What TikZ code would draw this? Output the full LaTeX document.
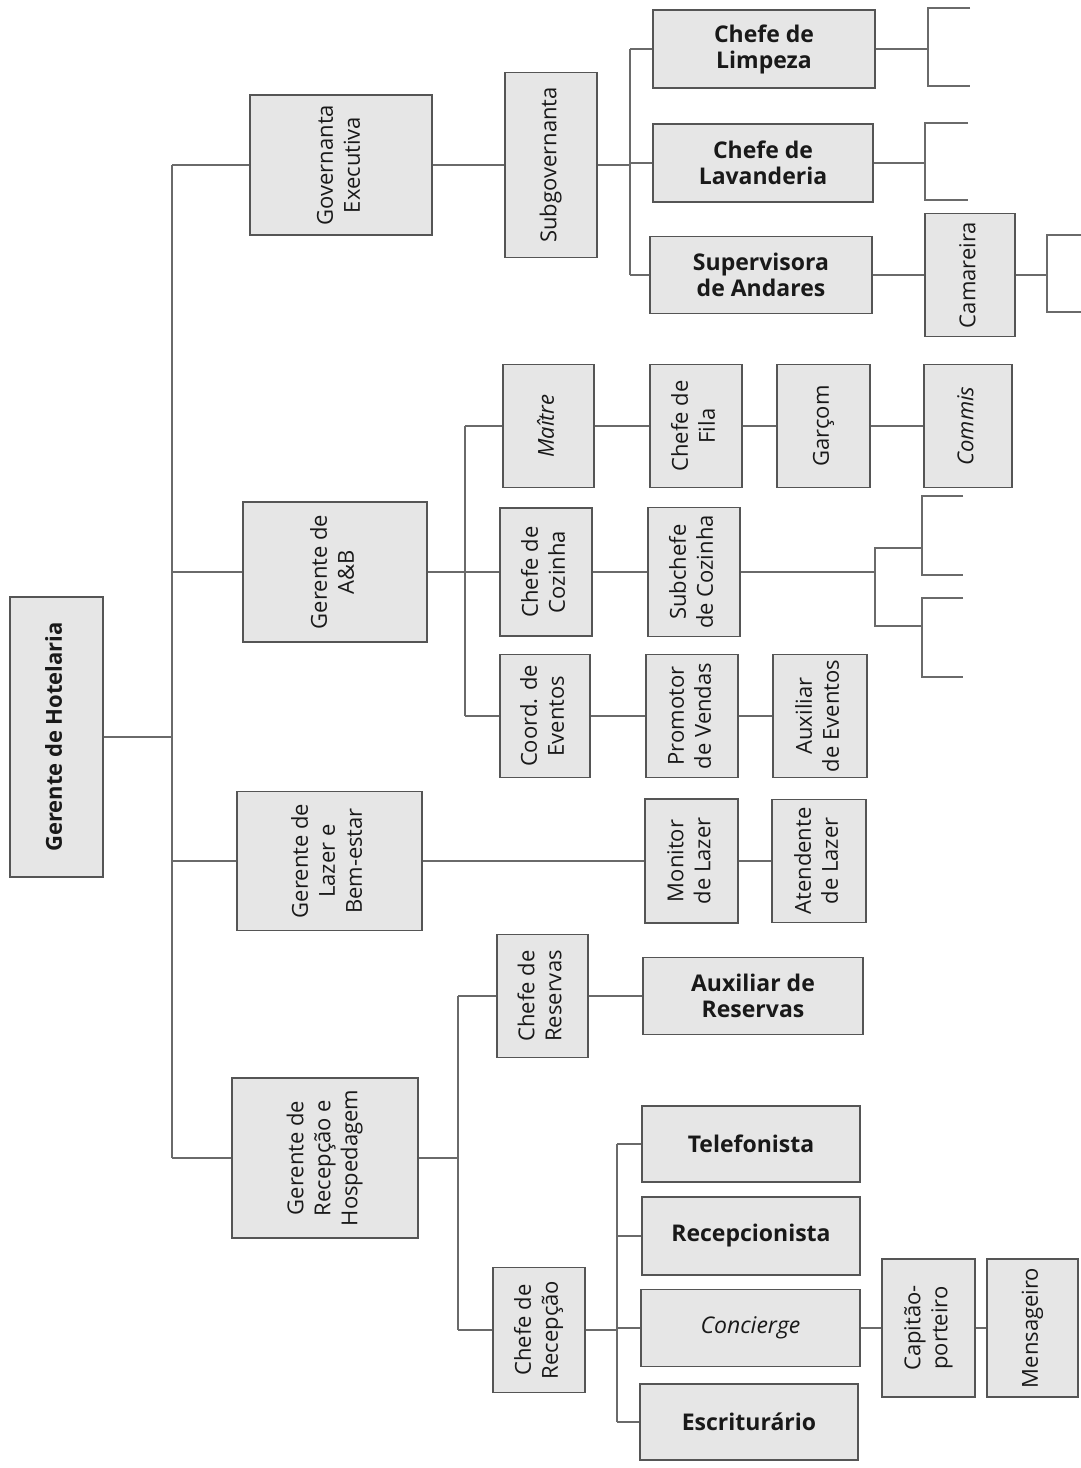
\documentclass[tikz,border=0pt]{standalone}
\usepackage{fontspec}
\usepackage{graphicx}
\setmainfont{Open Sans}
\newcommand{\vt}[1]{\rotatebox{90}{\begin{tabular}{@{}c@{}}#1\end{tabular}}}
\definecolor{boxfill}{HTML}{E6E6E6}
\definecolor{boxline}{HTML}{555555}
\definecolor{conn}{HTML}{6A6A6A}
\begin{document}
\begin{tikzpicture}[x=1pt,y=-1pt,
  orgbox/.style={draw=boxline, fill=boxfill, line width=1.3pt, inner sep=0pt, align=center,
    font=\fontsize{22}{27}\selectfont, text=black!90},
  hbox/.style={orgbox, font=\fontsize{23}{26}\selectfont\bfseries},
  link/.style={draw=conn, line width=1.2pt}]
\useasboundingbox (0,0) rectangle (1081,1468);
\fill[white] (0,0) rectangle (1081,1468);

% level 0
\node[orgbox, minimum width=93pt, minimum height=280pt] (hot) at (56.5,737) {\vt{\bfseries Gerente de Hotelaria}};
% level 1
\node[orgbox, minimum width=182pt, minimum height=140pt] (gov) at (341,165) {\vt{Governanta\\Executiva}};
\node[orgbox, minimum width=184pt, minimum height=140pt] (ab) at (335,572) {\vt{Gerente de\\A\&B}};
\node[orgbox, minimum width=185pt, minimum height=139pt] (laz) at (329.5,861) {\vt{Gerente de\\Lazer e\\Bem-estar}};
\node[orgbox, minimum width=186pt, minimum height=160pt] (rec) at (325,1158) {\vt{Gerente de\\Recepção e\\Hospedagem}};
% level 2
\node[orgbox, minimum width=92pt, minimum height=185pt] (subg) at (551,165) {\vt{Subgovernanta}};
\node[orgbox, minimum width=91pt, minimum height=123pt] (mai) at (548.5,426) {\vt{\itshape Maître}};
\node[orgbox, minimum width=92pt, minimum height=128pt] (coz) at (546,572) {\vt{Chefe de\\Cozinha}};
\node[orgbox, minimum width=90pt, minimum height=123pt] (coord) at (545,716) {\vt{Coord. de\\Eventos}};
\node[orgbox, minimum width=91pt, minimum height=123pt] (chres) at (542.5,996) {\vt{Chefe de\\Reservas}};
\node[orgbox, minimum width=92pt, minimum height=125pt] (chrec) at (539,1330) {\vt{Chefe de\\Recepção}};
% housekeeping
\node[hbox, minimum width=222pt, minimum height=78pt] (limp) at (764,49) {Chefe de\\Limpeza};
\node[hbox, minimum width=220pt, minimum height=78pt] (lav) at (763,163) {Chefe de\\Lavanderia};
\node[hbox, minimum width=222pt, minimum height=77pt] (sup) at (761,275) {Supervisora\\de Andares};
\node[orgbox, minimum width=90pt, minimum height=123pt] (cam) at (970,275) {\vt{Camareira}};
% A&B rows
\node[orgbox, minimum width=92pt, minimum height=123pt] (fila) at (696,426) {\vt{Chefe de\\Fila}};
\node[orgbox, minimum width=93pt, minimum height=123pt] (garc) at (823.5,426) {\vt{Garçom}};
\node[orgbox, minimum width=88pt, minimum height=123pt] (comm) at (968,426) {\vt{\itshape Commis}};
\node[orgbox, minimum width=92pt, minimum height=129pt] (subc) at (694,572) {\vt{Subchefe\\de Cozinha}};
\node[orgbox, minimum width=92pt, minimum height=123pt] (prom) at (692,716) {\vt{Promotor\\de Vendas}};
\node[orgbox, minimum width=94pt, minimum height=123pt] (auxev) at (820,716) {\vt{Auxiliar\\de Eventos}};
% leisure
\node[orgbox, minimum width=93pt, minimum height=124pt] (mon) at (691.5,861) {\vt{Monitor\\de Lazer}};
\node[orgbox, minimum width=94pt, minimum height=123pt] (atend) at (819,861) {\vt{Atendente\\de Lazer}};
% reception
\node[hbox, minimum width=220pt, minimum height=77pt] (auxres) at (753,996) {Auxiliar de\\Reservas};
\node[hbox, minimum width=218pt, minimum height=76pt] (tel) at (751,1144) {Telefonista};
\node[hbox, minimum width=218pt, minimum height=78pt] (recep) at (751,1236) {Recepcionista};
\node[orgbox, minimum width=219pt, minimum height=77pt, font=\fontsize{23}{26}\selectfont\itshape] (conc) at (750.5,1328) {Concierge};
\node[hbox, minimum width=218pt, minimum height=76pt] (escr) at (749,1422) {Escriturário};
\node[orgbox, minimum width=93pt, minimum height=138pt] (cap) at (928.5,1328) {\vt{Capitão-\\porteiro}};
\node[orgbox, minimum width=91pt, minimum height=138pt] (mens) at (1032.5,1328) {\vt{Mensageiro}};

% trunk
\coordinate (trT) at (172,165);
\coordinate (trB) at (172,1158);
\draw[link] (hot.east) -- (hot.east -| trT);
\draw[link] (trT) -- (trB);
\draw[link] (trT) -- (gov.west);
\draw[link] (ab.west) -- (ab.west -| trT);
\draw[link] (laz.west) -- (laz.west -| trT);
\draw[link] (trB) -- (rec.west);

% housekeeping
\coordinate (hk) at (630,165);
\draw[link] (gov.east) -- (subg.west);
\draw[link] (subg.east) -- (hk);
\draw[link] (limp.west -| hk) -- (sup.west -| hk);
\draw[link] (limp.west -| hk) -- (limp.west);
\draw[link] (lav.west -| hk) -- (lav.west);
\draw[link] (sup.west -| hk) -- (sup.west);
\coordinate (bl) at (928,49);
\draw[link] (limp.east) -- (bl);
\coordinate (bl1) at (928,8); \coordinate (bl2) at (928,86);
\coordinate (bl1e) at (970,8); \coordinate (bl2e) at (970,86);
\draw[link] (bl1e) -- (bl1) -- (bl2) -- (bl2e);
\coordinate (bv) at (925,163);
\draw[link] (lav.east) -- (bv);
\coordinate (bv1) at (925,123); \coordinate (bv2) at (925,200);
\coordinate (bv1e) at (968,123); \coordinate (bv2e) at (968,200);
\draw[link] (bv1e) -- (bv1) -- (bv2) -- (bv2e);
\draw[link] (sup.east) -- (cam.west);
\coordinate (bc) at (1047,275);
\draw[link] (cam.east) -- (bc);
\coordinate (bc1) at (1047,235); \coordinate (bc2) at (1047,312);
\coordinate (bc1e) at (1081,235); \coordinate (bc2e) at (1081,312);
\draw[link] (bc1e) -- (bc1) -- (bc2) -- (bc2e);

% A&B
\coordinate (abv) at (465,572);
\draw[link] (ab.east) -- (coz.west);
\draw[link] (mai.west -| abv) -- (coord.west -| abv);
\draw[link] (mai.west -| abv) -- (mai.west);
\draw[link] (coord.west -| abv) -- (coord.west);
\draw[link] (mai.east) -- (fila.west);
\draw[link] (fila.east) -- (garc.west);
\draw[link] (garc.east) -- (comm.west);
\draw[link] (coz.east) -- (subc.west);
\draw[link] (coord.east) -- (prom.west);
\draw[link] (prom.east) -- (auxev.west);
\coordinate (sb) at (875,572);
\draw[link] (subc.east) -- (sb);
\coordinate (sb1) at (875,548); \coordinate (sb2) at (875,626);
\coordinate (sb1e) at (922,548); \coordinate (sb2e) at (922,626);
\draw[link] (sb1e) -- (sb1) -- (sb2) -- (sb2e);
\coordinate (sa1) at (922,496); \coordinate (sa2) at (922,575);
\coordinate (sa1e) at (963,496); \coordinate (sa2e) at (963,575);
\draw[link] (sa1e) -- (sa1) -- (sa2) -- (sa2e);
\coordinate (sc1) at (922,598); \coordinate (sc2) at (922,677);
\coordinate (sc1e) at (963,598); \coordinate (sc2e) at (963,677);
\draw[link] (sc1e) -- (sc1) -- (sc2) -- (sc2e);

% leisure
\draw[link] (laz.east) -- (mon.west);
\draw[link] (mon.east) -- (atend.west);

% reception
\coordinate (rv) at (458,1158);
\draw[link] (rec.east) -- (rv);
\draw[link] (chres.west -| rv) -- (chrec.west -| rv);
\draw[link] (chres.west -| rv) -- (chres.west);
\draw[link] (chrec.west -| rv) -- (chrec.west);
\draw[link] (chres.east) -- (auxres.west);
\coordinate (cv) at (617,1330);
\draw[link] (chrec.east) -- (cv);
\draw[link] (tel.west -| cv) -- (escr.west -| cv);
\draw[link] (tel.west -| cv) -- (tel.west);
\draw[link] (recep.west -| cv) -- (recep.west);
\draw[link] (conc.west -| cv) -- (conc.west);
\draw[link] (escr.west -| cv) -- (escr.west);
\draw[link] (conc.east) -- (cap.west);
\draw[link] (cap.east) -- (mens.west);
\end{tikzpicture}
\end{document}
